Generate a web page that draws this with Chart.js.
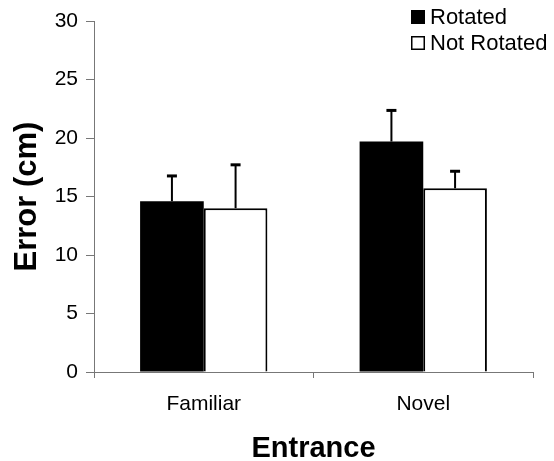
<!DOCTYPE html>
<html>
<head>
<meta charset="utf-8">
<script src="https://cdn.jsdelivr.net/npm/chart.js@4/dist/chart.umd.min.js"></script>
<style>
  html, body { margin: 0; padding: 0; background: #fff; }
  #wrap { width: 554px; height: 461px; }
</style>
</head>
<body>
<div id="wrap"><canvas id="c" width="554" height="461"></canvas></div>
<script>
const categories = ['Familiar', 'Novel'];
const seriesNames = ['Rotated', 'Not Rotated'];
const rotatedValues = [14.6, 19.7];
const notRotatedValues = [14.0, 15.7];
const rotatedErrors = [2.2, 2.7];
const notRotatedErrors = [3.75, 1.5];
const yTicks = [0, 5, 10, 15, 20, 25, 30];
const xTitle = 'Entrance';
const yTitle = 'Error (cm)';

const FONT = "'Liberation Sans', Arial, sans-serif";
const AXIS = '#777';

const errorBars = {
  id: 'errorBars',
  afterDatasetsDraw(chart) {
    const ctx = chart.ctx;
    const ys = chart.scales.y;
    ctx.save();
    ctx.strokeStyle = '#000';
    chart.data.datasets.forEach((ds, i) => {
      const meta = chart.getDatasetMeta(i);
      meta.data.forEach((bar, j) => {
        const top = ys.getPixelForValue(ds.data[j] + ds.errors[j]);
        ctx.lineWidth = 2;
        ctx.beginPath();
        ctx.moveTo(bar.x, bar.y);
        ctx.lineTo(bar.x, top);
        ctx.stroke();
        ctx.lineWidth = 3;
        ctx.beginPath();
        ctx.moveTo(bar.x - 5, top + 0.5);
        ctx.lineTo(bar.x + 5, top + 0.5);
        ctx.stroke();
      });
    });
    ctx.restore();
  }
};

const customLegend = {
  id: 'customLegend',
  afterDraw(chart) {
    const ctx = chart.ctx;
    ctx.save();
    ctx.font = '22px ' + FONT;
    ctx.textBaseline = 'middle';
    ctx.textAlign = 'left';
    chart.data.datasets.forEach((ds, i) => {
      const bx = 411, by = 10 + i * 26;
      ctx.fillStyle = ds.backgroundColor;
      ctx.fillRect(bx, by, 14, 14);
      ctx.strokeStyle = '#000';
      ctx.lineWidth = 1.5;
      ctx.strokeRect(bx + 0.75, by + 0.75, 12.5, 12.5);
      ctx.fillStyle = '#000';
      ctx.fillText(ds.label, 430, by + 8);
    });
    ctx.restore();
  }
};

new Chart(document.getElementById('c'), {
  type: 'bar',
  data: {
    labels: categories,
    datasets: [
      { label: seriesNames[0], data: rotatedValues, errors: rotatedErrors,
        backgroundColor: '#000', borderColor: '#000', borderWidth: 0 },
      { label: seriesNames[1], data: notRotatedValues, errors: notRotatedErrors,
        backgroundColor: '#fff', borderColor: '#000', borderWidth: 2 }
    ]
  },
  options: {
    responsive: false,
    animation: false,
    devicePixelRatio: 1,
    layout: { padding: { left: 0, right: 21, top: 21, bottom: 0 } },
    plugins: { legend: { display: false }, tooltip: { enabled: false } },
    datasets: { bar: { categoryPercentage: 0.58, barPercentage: 1.0 } },
    scales: {
      x: {
        afterFit(s) { s.height = 89; },
        grid: { drawOnChartArea: false, drawTicks: true, tickLength: 6, color: AXIS },
        border: { display: true, color: AXIS, width: 1 },
        ticks: { color: '#000', font: { family: FONT, size: 21 }, padding: 14 },
        title: { display: true, text: xTitle, color: '#000',
                 font: { family: FONT, size: 29, weight: 'bold', lineHeight: 0.8 },
                 padding: { top: 0, bottom: 0 } }
      },
      y: {
        min: 0, max: 30,
        afterFit(s) { s.width = 94; },
        afterBuildTicks(s) { s.ticks = yTicks.map(v => ({ value: v })); },
        grid: { drawOnChartArea: false, drawTicks: true, tickLength: 8, color: AXIS },
        border: { display: true, color: AXIS, width: 1 },
        ticks: { color: '#000', font: { family: FONT, size: 21 }, padding: 8 },
        title: { display: true, text: yTitle, color: '#000',
                 font: { family: FONT, size: 31, weight: 'bold', lineHeight: 1.2 },
                 padding: { top: 9, bottom: 0 } }
      }
    }
  },
  plugins: [errorBars, customLegend]
});
</script>
</body>
</html>
